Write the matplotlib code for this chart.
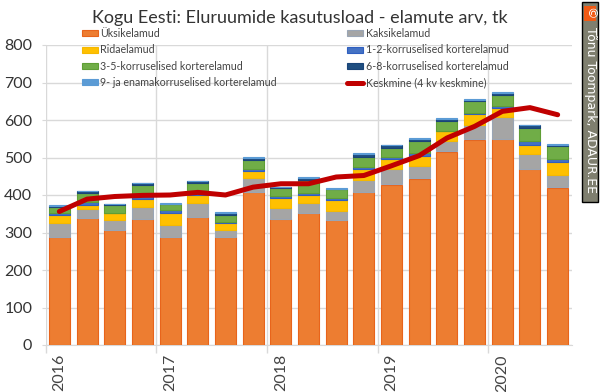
import matplotlib
matplotlib.use('Agg')
import matplotlib.pyplot as plt
import numpy as np
from matplotlib.patches import Rectangle

plt.rcParams['font.family'] = ['Lato', 'DejaVu Sans']

years = {0: '2016', 4: '2017', 8: '2018', 12: '2019', 16: '2020'}

yksik = [289, 339, 307, 336, 289, 342, 287, 409, 336, 353, 334, 409, 428, 444, 516, 548, 550, 470, 420]
kaksik = [36, 24, 27, 32, 31, 37, 19, 37, 30, 25, 24, 30, 40, 34, 28, 39, 57, 40, 34]
rida = [22, 11, 17, 22, 32, 20, 20, 19, 26, 23, 28, 31, 29, 27, 26, 28, 25, 22, 34]
k12 = [4, 6, 2, 13, 8, 12, 1, 5, 4, 4, 7, 5, 3, 6, 1, 5, 6, 13, 8]
k35 = [18, 25, 21, 24, 15, 21, 20, 22, 22, 35, 22, 26, 24, 34, 27, 31, 29, 34, 34]
k68 = [2, 5, 1, 4, 1, 4, 4, 6, 3, 5, 2, 7, 9, 4, 5, 3, 5, 7, 2]
k9 = [2, 0, 1, 1, 2, 1, 3, 4, 1, 3, 2, 5, 1, 3, 2, 3, 3, 1, 3]
keskmine = [356, 389, 396, 399, 400, 407, 400, 421, 430, 430, 448, 452, 478, 505, 552, 583, 623, 633, 614]

series = [
    ('Üksikelamud', yksik, '#ed7d31', '#e8641b'),
    ('Kaksikelamud', kaksik, '#a5a5a5', '#9aa5b5'),
    ('Ridaelamud', rida, '#ffc000', '#f5b800'),
    ('1-2-korruselised korterelamud', k12, '#4472c4', '#2f5fc0'),
    ('3-5-korruselised korterelamud', k35, '#70ad47', '#5f9e35'),
    ('6-8-korruselised korterelamud', k68, '#1f4e80', '#1a4478'),
    ('9- ja enamakorruselised korterelamud', k9, '#5b9bd5', '#5b9bd5'),
]

fig = plt.figure(figsize=(6, 3.92), dpi=100)
ax = fig.add_axes([45.5 / 600, 1 - 345 / 392, 526 / 600, 300 / 392])

x = np.arange(len(yksik))
bottom = np.zeros(len(yksik))
for name, vals, col, edge in series:
    ax.bar(x, vals, 0.76, bottom=bottom, color=col, edgecolor=edge, linewidth=0.8, label=name, zorder=3)
    bottom += np.array(vals)
ax.plot(x, keskmine, color='#c00000', lw=3.6, solid_capstyle='round', solid_joinstyle='round',
        label='Keskmine (4 kv keskmine)', zorder=4)

ax.set_xlim(-0.5, 18.5)
ax.set_ylim(0, 800)
ax.set_yticks(range(0, 801, 100))
ax.tick_params(axis='y', length=3, color='#d9d9d9', labelsize=11.5, labelcolor='#333333', pad=6.5)
ax.set_xticks(np.arange(-0.5, 18.5, 4))
ax.set_xticklabels([])
ax.tick_params(axis='x', length=6, color='#d9d9d9', width=1)
for i, lab in years.items():
    ax.text(i, -24, lab, rotation=90, ha='center', va='top', fontsize=11.5, color='#444444')
ax.grid(True, color='#d9d9d9', lw=1, zorder=0)
ax.set_axisbelow(True)
for s in ['top', 'right', 'left']:
    ax.spines[s].set_visible(False)
ax.spines['bottom'].set_color('#d9d9d9')

fig.text(300 / 600, 1 - 18 / 392, 'Kogu Eesti: Eluruumide kasutusload - elamute arv, tk', ha='center', va='center',
         fontsize=13, color='#333333')

h, l = ax.get_legend_handles_labels()
# line handle comes first, put it last
h = h[1:] + h[:1]
l = l[1:] + l[:1]
order = [0, 2, 4, 6, 1, 3, 5, 7]
leg = fig.legend([h[i] for i in order], [l[i] for i in order], ncol=2, frameon=False, fontsize=7.7,
                 loc='upper left', bbox_to_anchor=(82 / 600, 1 - 28 / 392), handlelength=1.5, handleheight=0.5,
                 handletextpad=0.2, columnspacing=6.6, labelspacing=0.5, borderpad=0, borderaxespad=0,
                 labelcolor='#444444')

# watermark box
fig.add_artist(Rectangle((582 / 600, 1 - 202 / 392), 16 / 600, 200 / 392, transform=fig.transFigure,
                         facecolor='#7f7f6f', edgecolor='black', lw=1, zorder=5))
fig.add_artist(Rectangle((584 / 600, 1 - 21 / 392), 12 / 600, 15 / 392, transform=fig.transFigure,
                         facecolor='#f05a14', edgecolor='none', zorder=6))
fig.text(590 / 600, 1 - 13.5 / 392, '©', rotation=-90, ha='center', va='center', fontsize=9, color='white', zorder=7,
         family='DejaVu Sans')
fig.text(590 / 600, 1 - 110 / 392, 'Tõnu Toompark, ADAUR.EE', rotation=-90, ha='center', va='center', fontsize=9,
         color='white', zorder=7, family='DejaVu Sans')

fig.savefig('out.png', dpi=100)
